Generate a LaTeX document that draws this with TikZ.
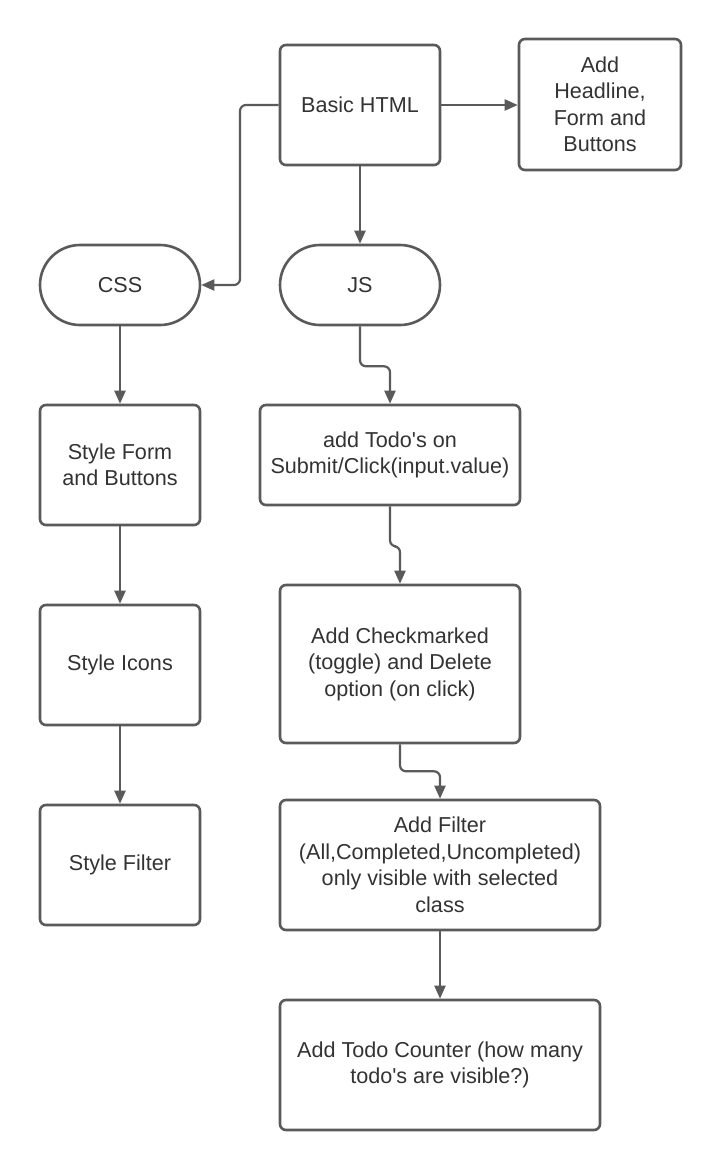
\documentclass[tikz,border=0pt]{standalone}
\usepackage{fontspec}
\setmainfont{Liberation Sans}[Ligatures=TeXOff]
\usetikzlibrary{arrows.meta}
\definecolor{ln}{HTML}{5A5A5A}
\definecolor{tx}{HTML}{333333}
\begin{document}
\begin{tikzpicture}[x=1pt,y=-1pt,
  box/.style={draw=ln,line width=2.6pt,rounded corners=6pt,fill=white,text=tx,align=center,inner sep=4pt,
    font=\fontsize{21.6}{26.5}\selectfont},
  pill/.style={box,rounded corners=40pt},
  conn/.style={draw=ln,line width=2.2pt,rounded corners=6pt,-{Triangle[length=13pt,width=11pt]}}]
\useasboundingbox[fill=white] (0,0) rectangle (720,1171);
\node[box,minimum width=160pt,minimum height=120pt] (html) at (360,105) {Basic HTML};
\node[box,minimum width=162pt,minimum height=131pt] (add) at (600,104.5) {Add\\Headline,\\Form and\\Buttons};
\node[pill,minimum width=160pt,minimum height=80pt] (css) at (120,285) {CSS};
\node[pill,minimum width=160pt,minimum height=80pt] (js) at (360,285) {JS};
\node[box,minimum width=260pt,minimum height=100pt] (todo) at (390,455) {add Todo's on\\Submit/Click(input.value)};
\node[box,minimum width=160pt,minimum height=120pt] (sform) at (120,465) {Style Form\\and Buttons};
\node[box,minimum width=160pt,minimum height=120pt] (sicons) at (120,665) {Style Icons};
\node[box,minimum width=160pt,minimum height=120pt] (sfilter) at (120,865) {Style Filter};
\node[box,minimum width=240pt,minimum height=158pt] (check) at (400,664) {Add Checkmarked\\(toggle) and Delete\\option (on click)};
\node[box,minimum width=320pt,minimum height=130pt] (filter) at (440,865) {Add Filter\\(All,Completed,Uncompleted)\\only visible with selected\\class};
\node[box,minimum width=320pt,minimum height=130pt] (counter) at (440,1065) {Add Todo Counter (how many\\todo's are visible?)};
\draw[conn] (html.west) -- (240,105) -- (240,285) -- (css.east);
\draw[conn] (html.east) -- (add.west |- html.east);
\draw[conn] (html.south) -- (js.north);
\draw[conn] (js.south) -- ++(0,40) -| (todo.north);
\draw[conn] (css.south) -- (sform.north);
\draw[conn] (sform.south) -- (sicons.north);
\draw[conn] (sicons.south) -- (sfilter.north);
\draw[conn] (todo.south) -- ++(0,40) -| (check.north);
\draw[conn] (check.south) -- ++(0,27) -| (filter.north);
\draw[conn] (filter.south) -- (counter.north);
\end{tikzpicture}
\end{document}
